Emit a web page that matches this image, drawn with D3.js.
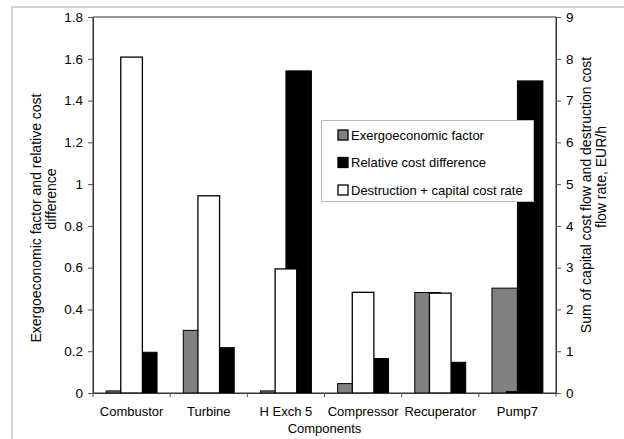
<!DOCTYPE html>
<html><head><meta charset="utf-8">
<script src="https://cdn.jsdelivr.net/npm/d3@7"></script>
<style>
body{margin:0;background:#fff}
svg{display:block}
text{font-family:"Liberation Sans",Arial,Helvetica,sans-serif;fill:#000}
</style></head><body>
<svg id="c" width="624" height="439"></svg>
<script>
const categories = ["Combustor","Turbine","H Exch 5","Compressor","Recuperator","Pump7"];
const exergoFactor = [0.01, 0.30, 0.01, 0.045, 0.481, 0.502];
const relCostDiff = [0.195, 0.217, 1.542, 0.165, 0.147, 1.494];
const costRate = [8.04, 4.72, 2.97, 2.41, 2.39, 0.03];
const leftTicks = [0,0.2,0.4,0.6,0.8,1,1.2,1.4,1.6,1.8];
const leftTickLabels = ["0","0.2","0.4","0.6","0.8","1","1.2","1.4","1.6","1.8"];
const rightTicks = [0,1,2,3,4,5,6,7,8,9];
const rightTickLabels = ["0","1","2","3","4","5","6","7","8","9"];
const seriesNames = ["Exergoeconomic factor","Relative cost difference","Destruction + capital cost rate"];

const svg = d3.select("#c");
const L = 93, R = 556, T = 17, B = 393;

// outer frame
svg.append("rect").attr("x",12).attr("y",7).attr("width",700).attr("height",500)
  .attr("fill","none").attr("stroke","#d4d4d4").attr("stroke-width",2);

const x0 = d3.scaleBand().domain(categories).range([L,R]).paddingInner(0.34).paddingOuter(0.17);
const x1 = d3.scaleBand().domain(["f","r"]).range([0,x0.bandwidth()]);
const x2 = d3.scaleBand().domain(categories).range([L,R]).paddingInner(0.72).paddingOuter(0.36);
const yL = d3.scaleLinear().domain([0,1.8]).range([B,T]);
const yR = d3.scaleLinear().domain([0,9]).range([B,T]);

// plot border
svg.append("rect").attr("x",L).attr("y",T).attr("width",R-L).attr("height",B-T)
  .attr("fill","#fff").attr("stroke","#333").attr("stroke-width",1);

const g = svg.append("g");
categories.forEach((c,i)=>{
  g.append("rect").attr("x",x0(c)+x1("f")).attr("y",yL(exergoFactor[i]))
    .attr("width",x1.bandwidth()).attr("height",B-yL(exergoFactor[i]))
    .attr("fill","#808080").attr("stroke","#000").attr("stroke-width",1);
  g.append("rect").attr("x",x0(c)+x1("r")).attr("y",yL(relCostDiff[i]))
    .attr("width",x1.bandwidth()).attr("height",B-yL(relCostDiff[i]))
    .attr("fill","#000").attr("stroke","#000").attr("stroke-width",1);
});
categories.forEach((c,i)=>{
  g.append("rect").attr("x",x2(c)).attr("y",yR(costRate[i]))
    .attr("width",x2.bandwidth()).attr("height",B-yR(costRate[i]))
    .attr("fill","#fff").attr("stroke","#000").attr("stroke-width",1.3);
});

// axes
const axL = d3.axisLeft(yL).tickValues(leftTicks).tickFormat((d,i)=>leftTickLabels[i]).tickSize(5).tickPadding(5);
const gl = svg.append("g").attr("transform",`translate(${L},0)`).call(axL);
const axR = d3.axisRight(yR).tickValues(rightTicks).tickFormat((d,i)=>rightTickLabels[i]).tickSize(5).tickPadding(5);
const gr = svg.append("g").attr("transform",`translate(${R},0)`).call(axR);
const axB = d3.axisBottom(x0).tickSize(0).tickPadding(14);
const gb = svg.append("g").attr("transform",`translate(0,${B})`).call(axB);
[gl,gr,gb].forEach(a=>{
  a.selectAll("path").attr("stroke","#333");
  a.selectAll("line").attr("stroke","#555");
  a.selectAll("text").style("font-size","13px").style("font-family",'"Liberation Sans",Arial,sans-serif');
});
gl.selectAll("text").style("font-size","13.5px");
gr.selectAll("text").style("font-size","13.5px");
// category boundary ticks
const bounds = categories.map(c=>x0(c)-x0.step()*0.17).concat([R]);
svg.append("g").selectAll("line").data(bounds).join("line")
  .attr("x1",d=>d).attr("x2",d=>d).attr("y1",B).attr("y2",B+4).attr("stroke","#555");

// axis titles
svg.append("text").attr("x",(L+R)/2).attr("y",433).attr("text-anchor","middle").style("font-size","13px").text("Components");
svg.append("text").attr("transform",`translate(41,218) rotate(-90)`).attr("text-anchor","middle")
  .style("font-size","14px").text("Exergoeconomic factor and relative cost");
svg.append("text").attr("transform",`translate(56,199) rotate(-90)`).attr("text-anchor","middle")
  .style("font-size","14px").text("difference");
svg.append("text").attr("transform",`translate(591,195) rotate(-90)`).attr("text-anchor","middle")
  .style("font-size","14px").text("Sum of capital cost flow and destruction cost");
svg.append("text").attr("transform",`translate(606,177) rotate(-90)`).attr("text-anchor","middle")
  .style("font-size","14px").text("flow rate, EUR/h");

// legend
const lg = svg.append("g");
lg.append("rect").attr("x",321.5).attr("y",120.5).attr("width",212).attr("height",81)
  .attr("fill","#fff").attr("stroke","#bbb").attr("stroke-width",1);
const fills = ["#808080","#000","#fff"];
seriesNames.forEach((n,i)=>{
  const cy = 135 + i*27.5;
  lg.append("rect").attr("x",338).attr("y",cy-5).attr("width",10).attr("height",10)
    .attr("fill",fills[i]).attr("stroke","#000").attr("stroke-width",1.3);
  lg.append("text").attr("x",351).attr("y",cy+4.5).style("font-size","13px").text(n);
});
</script>
</body></html>
